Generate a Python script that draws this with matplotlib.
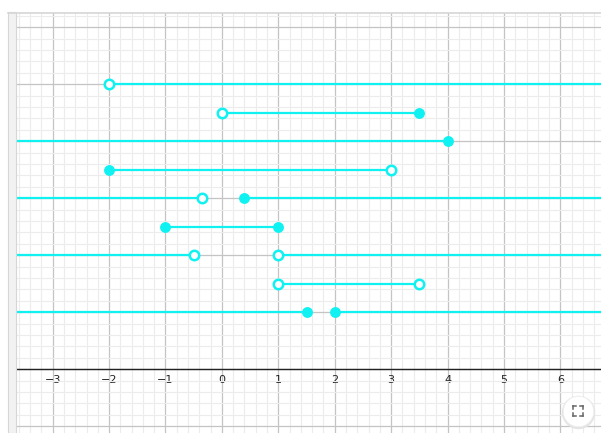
import numpy as np
import matplotlib
matplotlib.use('Agg')
import matplotlib.pyplot as plt
from matplotlib.ticker import MultipleLocator
from matplotlib.patches import Rectangle
from matplotlib.lines import Line2D

# number-line rows (solution sets), inf = ray to the edge
seg_y = [5, 4.5, 4, 3.5, 3, 3, 2.5, 2, 2, 1.5, 1, 1]
seg_x0 = [-2, 0, -np.inf, -2, -np.inf, 0.4, -1, -np.inf, 1, 1, -np.inf, 2]
seg_x1 = [np.inf, 3.5, 4, 3, -0.35, np.inf, 1, -0.5, np.inf, 3.5, 1.5, np.inf]

# endpoints: True = closed (filled), False = open
pt_x = [-2, 0, 3.5, 4, -2, 3, -0.35, 0.4, -1, 1, -0.5, 1, 1, 3.5, 1.5, 2]
pt_y = [5, 4.5, 4.5, 4, 3.5, 3.5, 3, 3, 2.5, 2.5, 2, 2, 1.5, 1.5, 1, 1]
pt_closed = [False, False, True, True, True, False, False, True,
             True, True, False, False, False, False, True, True]

tick_vals = [-3, -2, -1, 0, 1, 2, 3, 4, 5, 6]

cyan = '#10F2F2'
W, H = 601, 433

fig = plt.figure(figsize=(W / 100, H / 100), dpi=100)
ax = fig.add_axes([16 / W, 0, (W - 16) / W, (H - 13) / H])

xmin, xmax = -3.65, 6.72
ymin, ymax = -1.12, 6.25
ax.set_xlim(xmin, xmax)
ax.set_ylim(ymin, ymax)

ax.xaxis.set_major_locator(MultipleLocator(1))
ax.xaxis.set_minor_locator(MultipleLocator(0.2))
ax.yaxis.set_major_locator(MultipleLocator(1))
ax.yaxis.set_minor_locator(MultipleLocator(0.2))
ax.grid(which='minor', color='#ececec', lw=0.8, zorder=0)
ax.grid(which='major', color='#c4c4c4', lw=0.9, zorder=0)
ax.set_axisbelow(True)

for s in ['top', 'right', 'left']:
    ax.spines[s].set_visible(False)
ax.spines['bottom'].set_position(('data', 0))
ax.spines['bottom'].set_color('#222222')
ax.spines['bottom'].set_linewidth(1.0)
ax.tick_params(axis='x', which='both', length=0, pad=4, labelsize=8, colors='#222222')
ax.tick_params(axis='y', which='both', length=0, labelleft=False)
ax.set_xticks(tick_vals)
ax.set_xticklabels([str(v).replace('-', '\u2212') for v in tick_vals])

# segments
for y, a, b in zip(seg_y, seg_x0, seg_x1):
    a = max(a, xmin - 1)
    b = min(b, xmax + 1)
    ax.plot([a, b], [y, y], color=cyan, lw=1.6, solid_capstyle='butt', zorder=3)

# endpoints
for x, y, c in zip(pt_x, pt_y, pt_closed):
    if c:
        ax.plot(x, y, 'o', ms=6.8, color=cyan, mec=cyan, zorder=4)
    else:
        ax.plot(x, y, 'o', ms=6.8, mfc='white', mec=cyan, mew=1.8, zorder=4)

# app frame: top border and left strip
fig.add_artist(Rectangle((8 / W, 0), 8 / W, (H - 12) / H, transform=fig.transFigure,
                         facecolor='#f2f2f2', edgecolor='#d6d6d6', lw=0.8))
fig.add_artist(Line2D([8 / W, 1], [(H - 12.5) / H] * 2, transform=fig.transFigure,
                      color='#d6d6d6', lw=1.2))

# fullscreen button
cx, cy = 578, H - 411
fig.add_artist(Line2D([cx / W], [(cy - 1) / H], transform=fig.transFigure, marker='o',
                      ms=23, mfc='#e4e4e4', mec='#e4e4e4', ls='none'))
fig.add_artist(Line2D([cx / W], [cy / H], transform=fig.transFigure, marker='o',
                      ms=22, mfc='white', mec='#eeeeee', mew=0.6, ls='none'))
d, k = 5, 3
for sx in (-1, 1):
    for sy in (-1, 1):
        px, py = cx + sx * d, cy + sy * d
        fig.add_artist(Line2D([px / W, (px - sx * k) / W], [py / H, py / H],
                              transform=fig.transFigure, color='#666666', lw=1.1))
        fig.add_artist(Line2D([px / W, px / W], [py / H, (py - sy * k) / H],
                              transform=fig.transFigure, color='#666666', lw=1.1))

fig.savefig('out.png', dpi=100)
